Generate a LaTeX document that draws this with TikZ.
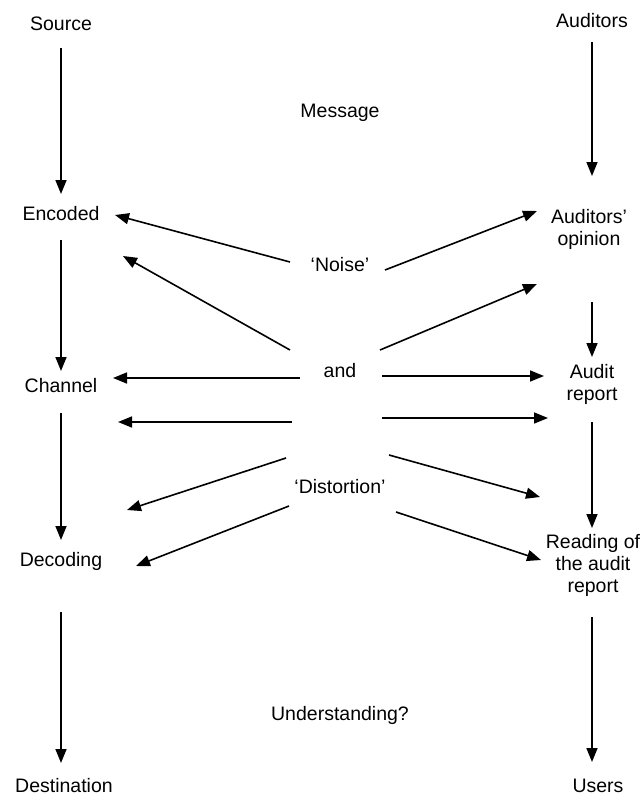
\documentclass[tikz,border=0pt]{standalone}
\usepackage{fontspec}
\setmainfont{Liberation Sans}
\usetikzlibrary{arrows.meta}
\begin{document}
\begin{tikzpicture}[x=1pt,y=-1pt,
  lbl/.style={inner sep=0pt,align=center,font=\fontsize{19.5}{22}\selectfont},
  flow/.style={line width=1.6pt,-{Triangle[length=14pt,width=11pt]}}]
\useasboundingbox (0,0) rectangle (643,798);

% left column: communication chain
\node[lbl] (src) at (61,24) {Source};
\node[lbl] (enc) at (61,214) {Encoded};
\node[lbl] (chn) at (61,386) {Channel};
\node[lbl] (dec) at (61,561) {Decoding};
\node[lbl] (dst) at (64,786) {Destination};

% right column: audit chain
\node[lbl] (aud) at (592,21) {Auditors};
\node[lbl] (opn) at (589,229) {Auditors'\\opinion};
\node[lbl] (rep) at (592,384) {Audit\\report};
\node[lbl] (rdg) at (593,565) {Reading of\\the audit\\report};
\node[lbl] (usr) at (598,786) {Users};

% middle labels
\node[lbl] (msg) at (340,113) {Message};
\node[lbl] (noise) at (340,265) {`Noise'};
\node[lbl] (and) at (340,371) {and};
\node[lbl] (dist) at (340,487) {`Distortion'};
\node[lbl] (und) at (340,715) {Understanding?};

% vertical flows
\coordinate (l1a) at (61,48);  \coordinate (l1b) at (61,194);
\coordinate (l2a) at (61,240); \coordinate (l2b) at (61,371);
\coordinate (l3a) at (61,413); \coordinate (l3b) at (61,540);
\coordinate (l4a) at (61,612); \coordinate (l4b) at (61,763);
\coordinate (r1a) at (592,42);  \coordinate (r1b) at (592,176);
\coordinate (r2a) at (592,302); \coordinate (r2b) at (592,357);
\coordinate (r3a) at (592,422); \coordinate (r3b) at (592,528);
\coordinate (r4a) at (592,617); \coordinate (r4b) at (592,762);
\foreach \a/\b in {l1a/l1b,l2a/l2b,l3a/l3b,l4a/l4b,r1a/r1b,r2a/r2b,r3a/r3b,r4a/r4b}
  \draw[flow] (\a) -- (\b);

% noise and distortion acting on both chains
\coordinate (nL1) at (290,262); \coordinate (tL1) at (115,215);
\coordinate (nL2) at (290,350); \coordinate (tL2) at (123,256);
\coordinate (nL3) at (300,378); \coordinate (tL3) at (113,378);
\coordinate (nL4) at (292,422); \coordinate (tL4) at (118,422);
\coordinate (nL5) at (286,458); \coordinate (tL5) at (127,510);
\coordinate (nL6) at (289,506); \coordinate (tL6) at (136,566);
\coordinate (nR1) at (385,270); \coordinate (tR1) at (537,211);
\coordinate (nR2) at (380,350); \coordinate (tR2) at (537,284);
\coordinate (nR3) at (382,376); \coordinate (tR3) at (544,376);
\coordinate (nR4) at (382,418); \coordinate (tR4) at (548,418);
\coordinate (nR5) at (389,455); \coordinate (tR5) at (540,497);
\coordinate (nR6) at (396,512); \coordinate (tR6) at (541,560);
\foreach \i in {1,...,6} {
  \draw[flow] (nL\i) -- (tL\i);
  \draw[flow] (nR\i) -- (tR\i);
}
\end{tikzpicture}
\end{document}
